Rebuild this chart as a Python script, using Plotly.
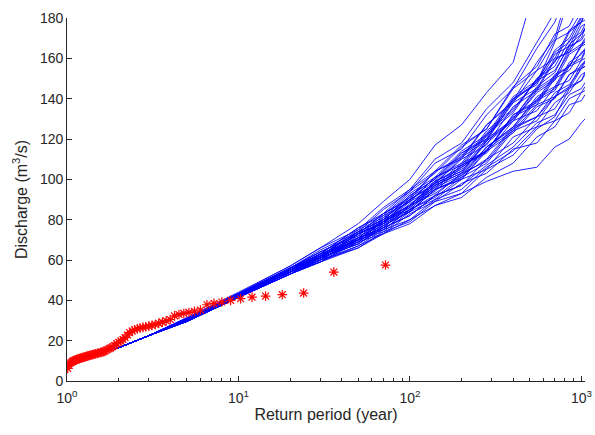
import plotly.graph_objects as go

# ---- observed annual maxima (red asterisks) ----
obs_return_period = [72.0, 36.0, 24.0, 18.0, 14.4, 12.0, 10.29, 9.0, 8.0, 7.2,
                     6.55, 6.0, 5.54, 5.14, 4.8, 4.5, 4.24, 4.0, 3.79, 3.6,
                     3.43, 3.27, 3.13, 3.0, 2.88, 2.77, 2.67, 2.57, 2.48, 2.4,
                     2.32, 2.25, 2.18, 2.12, 2.06, 2.0, 1.95, 1.89, 1.85, 1.8,
                     1.76, 1.71, 1.67, 1.64, 1.6, 1.57, 1.53, 1.5, 1.47, 1.44,
                     1.41, 1.38, 1.36, 1.33, 1.31, 1.29, 1.26, 1.24, 1.22, 1.2,
                     1.18, 1.16, 1.14, 1.13, 1.11, 1.09, 1.08, 1.06, 1.04, 1.03, 1.01]
obs_discharge = [57.5, 54.0, 43.6, 42.8, 42.1, 41.6, 40.8, 40.0, 39.2, 38.5,
                 37.8, 35.2, 34.6, 34.0, 33.5, 33.0, 32.3, 30.5, 29.8, 29.2,
                 28.6, 28.0, 27.6, 27.2, 26.9, 26.6, 26.3, 25.9, 25.4, 24.8,
                 24.0, 22.8, 21.5, 20.6, 19.8, 19.2, 18.5, 17.6, 17.0, 16.4,
                 16.0, 15.5, 15.0, 14.6, 14.3, 14.1, 13.9, 13.7, 13.5, 13.3,
                 13.1, 12.9, 12.7, 12.5, 12.3, 12.1, 11.9, 11.7, 11.5, 11.3,
                 11.1, 10.9, 10.7, 10.5, 10.3, 10.0, 9.7, 9.3, 8.8, 7.8, 6.2]

# ---- simulated frequency curves (blue lines) ----
sim_rp_low = [1.0, 1.5, 2.0, 3.0]
sim_q_low = [8.5, 13.5, 16.5, 22.5]
sim_rp_high = [5, 10, 20, 30, 50, 70, 100, 140, 200, 280, 400, 550, 700, 850, 1000, 1050]
sim_q_high = [
    [31, 43.5, 57, 66, 78, 89, 100, 117, 127, 143, 158, 200, 230, 240, 250, 252],
    [30.5, 42.5, 55, 63, 71, 80, 87, 98, 104, 118, 129, 144, 150, 165, 170, 175],
    [30, 42, 54, 60, 71, 76, 87, 93, 102, 110, 126, 131, 141, 146, 157, 158],
    [31, 43, 56, 64, 73, 83, 91, 104, 111, 127, 138, 154, 160, 174, 178, 183],
    [29.5, 41.5, 53, 59, 67, 73, 80, 87, 93, 99, 104, 106, 116, 120, 128, 130],
    [30, 42, 54, 61, 68, 76, 82, 92, 97, 107, 116, 128, 132, 142, 145, 148],
    [30.5, 43, 55, 62, 74, 80, 91, 99, 112, 120, 140, 148, 168, 190, 205, 210],
    [31, 43, 56, 63, 76, 82, 94, 103, 116, 125, 146, 156, 172, 176, 188, 190],
    [30, 42, 54, 62, 70, 79, 86, 97, 103, 116, 126, 140, 145, 157, 160, 164],
    [29.5, 41.5, 53, 59, 69, 73, 83, 89, 98, 103, 115, 118, 129, 133, 143, 144],
    [30.5, 42.5, 55, 61, 73, 79, 90, 98, 110, 117, 136, 144, 159, 164, 176, 177],
    [31.5, 44, 57, 66, 75, 86, 95, 110, 118, 135, 148, 168, 183, 202, 209, 212],
    [30, 42, 54, 60, 71, 75, 85, 91, 101, 108, 124, 129, 141, 145, 155, 156],
    [30, 42.5, 55, 63, 70, 79, 85, 96, 102, 116, 125, 139, 144, 156, 159, 163],
    [29.5, 41.5, 53, 59, 66, 73, 78, 87, 91, 101, 108, 121, 126, 137, 139, 142],
    [31, 43.5, 56, 62, 75, 81, 93, 101, 114, 122, 141, 149, 163, 168, 180, 181],
    [30.5, 42.5, 55, 63, 71, 81, 89, 101, 107, 123, 134, 150, 156, 169, 173, 177],
    [30, 42, 54, 60, 71, 76, 87, 94, 106, 114, 132, 139, 152, 156, 166, 167],
    [30, 42, 54, 61, 68, 77, 84, 95, 100, 114, 123, 136, 140, 152, 155, 158],
    [31, 43, 56, 65, 74, 85, 94, 108, 115, 132, 145, 165, 178, 197, 204, 207],
    [30.5, 43, 55, 62, 74, 80, 92, 100, 113, 121, 140, 147, 162, 166, 178, 179],
    [29.5, 41.5, 53, 60, 67, 75, 80, 90, 95, 106, 114, 126, 129, 140, 143, 146],
    [30, 42, 54, 62, 70, 79, 87, 99, 105, 120, 130, 145, 151, 163, 167, 170],
    [30.5, 42.5, 55, 61, 73, 78, 89, 96, 107, 113, 129, 134, 146, 149, 159, 160],
    [31, 43, 56, 64, 72, 82, 89, 101, 108, 124, 135, 149, 154, 166, 169, 172],
    [30, 42, 54, 59, 70, 75, 85, 92, 103, 109, 125, 131, 143, 147, 155, 156],
    [30.5, 42.5, 55, 63, 70, 80, 87, 99, 106, 122, 133, 150, 158, 173, 178, 182],
    [30, 42, 54, 61, 69, 78, 84, 95, 100, 115, 124, 137, 141, 152, 156, 159],
    [31, 43.5, 56, 63, 76, 83, 95, 104, 117, 125, 145, 154, 169, 173, 183, 185],
    [29.5, 41.5, 53, 61, 68, 76, 82, 92, 97, 110, 118, 131, 135, 146, 149, 152],
    [30.5, 43, 55, 61, 73, 78, 90, 98, 111, 119, 139, 148, 164, 170, 181, 183],
    [30, 42, 54, 62, 69, 77, 84, 95, 101, 116, 126, 141, 146, 158, 162, 165],
    [30.5, 42.5, 55, 61, 72, 77, 88, 95, 107, 114, 132, 138, 151, 156, 167, 168],
    [31, 43, 56, 64, 73, 83, 90, 104, 110, 127, 139, 158, 170, 195, 199, 202],
    [30, 42, 54, 60, 70, 74, 84, 90, 100, 105, 121, 126, 138, 143, 152, 153],
    [30, 42.5, 54, 62, 70, 79, 86, 98, 104, 119, 129, 143, 149, 162, 166, 169],
    [30.5, 42.5, 55, 61, 73, 79, 90, 97, 108, 114, 131, 137, 150, 154, 163, 164],
    [29.5, 41.5, 53, 60, 66, 74, 79, 89, 93, 105, 112, 125, 131, 145, 149, 153],
    [31, 43, 56, 62, 74, 80, 92, 100, 113, 120, 138, 145, 160, 163, 172, 174],
    [30, 42, 54, 62, 69, 78, 85, 97, 103, 119, 130, 146, 153, 167, 172, 175],
]

x_tick_vals = [1, 10, 100, 1000]
x_tick_text = ["10<sup>0</sup>", "10<sup>1</sup>", "10<sup>2</sup>", "10<sup>3</sup>"]
x_minor_vals = [2, 3, 4, 5, 6, 7, 8, 9, 20, 30, 40, 50, 60, 70, 80, 90,
                200, 300, 400, 500, 600, 700, 800, 900]
y_tick_vals = [0, 20, 40, 60, 80, 100, 120, 140, 160, 180]

fig = go.Figure()
for q in sim_q_high:
    fig.add_trace(go.Scatter(
        x=sim_rp_low + sim_rp_high, y=sim_q_low + q, mode="lines",
        line=dict(color="rgb(0,0,255)", width=1), opacity=0.85,
        showlegend=False, hoverinfo="skip"))

fig.add_trace(go.Scatter(
    x=obs_return_period, y=obs_discharge, mode="markers",
    marker=dict(symbol="asterisk", size=8, color="red",
                line=dict(color="red", width=1.2)),
    showlegend=False))

axis_color = "#262626"
font_family = "Liberation Sans, Arial, Helvetica, sans-serif"
fig.update_layout(
    width=595, height=435,
    margin=dict(l=67, r=3, t=18, b=54),
    paper_bgcolor="white", plot_bgcolor="white",
    font=dict(family=font_family, size=13, color=axis_color),
    xaxis=dict(
        type="log", range=[0, 3.021],
        tickvals=x_tick_vals, ticktext=x_tick_text,
        ticks="inside", ticklen=5, tickwidth=0.8, tickcolor=axis_color,
        minor=dict(tickvals=x_minor_vals, ticks="inside", ticklen=3,
                   tickwidth=0.8, tickcolor=axis_color),
        showline=True, linecolor=axis_color, linewidth=0.8,
        showgrid=False, zeroline=False,
        tickfont=dict(size=14), ticklabeloverflow="allow", ticklabelstandoff=4,
        title=dict(text="Return period (year)", font=dict(size=16), standoff=4),
    ),
    yaxis=dict(
        range=[0, 180], tickvals=y_tick_vals,
        ticks="inside", ticklen=5, tickwidth=0.8, tickcolor=axis_color,
        showline=True, linecolor=axis_color, linewidth=0.8,
        showgrid=False, zeroline=False,
        tickfont=dict(size=14),
        title=dict(text="Discharge (m<sup>3</sup>/s)", font=dict(size=16), standoff=8),
    ),
)

fig.write_html("out.html")
